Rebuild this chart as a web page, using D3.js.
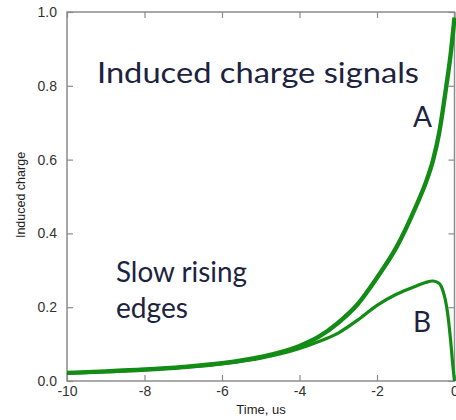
<!DOCTYPE html>
<html>
<head>
<meta charset="utf-8">
<script src="https://cdn.jsdelivr.net/npm/d3@7"></script>
<style>
  body { margin: 0; background: #fff; }
  svg { display: block; }
</style>
</head>
<body>
<script>
// Data (time in us, induced charge)
var timeA = [-10, -9, -8, -7, -6, -5, -4, -3.5, -3, -2.5, -2, -1.5, -1, -0.75, -0.55, -0.4, -0.21, -0.1, 0];
var chargeA = [0.022, 0.026, 0.031, 0.038, 0.048, 0.065, 0.095, 0.12, 0.158, 0.208, 0.28, 0.362, 0.472, 0.535, 0.6, 0.67, 0.8, 0.885, 0.985];
var timeB = [-10, -8, -6, -5, -4, -3.5, -3, -2.5, -2, -1.5, -1, -0.75, -0.55, -0.4, -0.3, -0.2, -0.1, -0.05, 0];
var chargeB = [0.021, 0.03, 0.047, 0.062, 0.088, 0.107, 0.13, 0.165, 0.205, 0.235, 0.257, 0.267, 0.271, 0.265, 0.245, 0.2, 0.11, 0.05, 0];
var xTicks = [-10, -8, -6, -4, -2, 0];
var yTicks = [0, 0.2, 0.4, 0.6, 0.8, 1.0];

var svgWidth = 456;
var svgHeight = 420;
var margin = { top: 12, right: 1, bottom: 39, left: 67 };
var width = svgWidth - margin.left - margin.right;
var height = svgHeight - margin.top - margin.bottom;

var svg = d3.select("body")
  .append("svg")
  .attr("width", svgWidth)
  .attr("height", svgHeight);

var chartGroup = svg.append("g")
  .attr("transform", `translate(${margin.left}, ${margin.top})`);

var x = d3.scaleLinear().domain([-10, 0]).range([0, width - 0.5]);
var y = d3.scaleLinear().domain([0, 1]).range([height, 0]);

// Frame
chartGroup.append("rect")
  .attr("width", x(0))
  .attr("height", height)
  .attr("fill", "none")
  .attr("stroke", "#8c8c8c")
  .attr("stroke-width", 1.5);

function styleAxis(g) {
  g.select(".domain").remove();
  g.selectAll(".tick line").attr("stroke", "#8c8c8c").attr("stroke-width", 1.2);
  g.selectAll(".tick text")
    .attr("fill", "#333")
    .style("font-family", "'Liberation Sans', Arial, sans-serif")
    .style("font-size", "14px");
}

// plain hyphen for negatives, like the original
var xFormat = d => String(d);

chartGroup.append("g")
  .attr("transform", `translate(0, ${height})`)
  .call(d3.axisBottom(x).tickValues(xTicks).tickFormat(xFormat)
    .tickSizeInner(-6).tickSizeOuter(0).tickPadding(5))
  .call(styleAxis);

chartGroup.append("g")
  .call(d3.axisTop(x).tickValues(xTicks).tickFormat("")
    .tickSizeInner(-6).tickSizeOuter(0))
  .call(styleAxis);

chartGroup.append("g")
  .call(d3.axisLeft(y).tickValues(yTicks).tickFormat(d3.format(".1f"))
    .tickSizeInner(-6).tickSizeOuter(0).tickPadding(10))
  .call(styleAxis);

chartGroup.append("g")
  .attr("transform", `translate(${x(0)}, 0)`)
  .call(d3.axisRight(y).tickValues(yTicks).tickFormat("")
    .tickSizeInner(-6).tickSizeOuter(0))
  .call(styleAxis);

// Axis titles
svg.append("text")
  .attr("transform", "rotate(-90)")
  .attr("x", -195)
  .attr("y", 25)
  .attr("text-anchor", "middle")
  .attr("fill", "#222")
  .style("font-family", "'Liberation Sans', Arial, sans-serif")
  .style("font-size", "12.5px")
  .text("Induced charge");

svg.append("text")
  .attr("x", 261)
  .attr("y", 414)
  .attr("text-anchor", "middle")
  .attr("fill", "#222")
  .style("font-family", "'Liberation Sans', Arial, sans-serif")
  .style("font-size", "13px")
  .text("Time, us");

// Curves
var line = d3.line()
  .x(d => x(d[0]))
  .y(d => y(d[1]))
  .curve(d3.curveMonotoneX);

var dataA = d3.zip(timeA, chargeA);
var dataB = d3.zip(timeB, chargeB);

chartGroup.append("path")
  .datum(dataB)
  .attr("d", line)
  .attr("fill", "none")
  .attr("stroke", "#128c14")
  .attr("stroke-width", 3.2);

chartGroup.append("path")
  .datum(dataA)
  .attr("d", line)
  .attr("fill", "none")
  .attr("stroke", "#128c14")
  .attr("stroke-width", 4.4);

// Annotations
var noteFont = "Lato, 'Open Sans', sans-serif";
var noteColor = "#1c2340";

function note(txt, nx, ny, len) {
  var t = svg.append("text")
    .attr("x", nx)
    .attr("y", ny)
    .attr("fill", noteColor)
    .style("font-family", noteFont)
    .style("font-size", "28px")
    .text(txt);
  if (len) t.attr("textLength", len).attr("lengthAdjust", "spacingAndGlyphs");
}

note("Induced charge signals", 97, 83, 322);
note("A", 413, 127);
note("Slow rising", 116, 282, 131);
note("edges", 116, 318, 72);
note("B", 413, 332);
</script>
</body>
</html>
